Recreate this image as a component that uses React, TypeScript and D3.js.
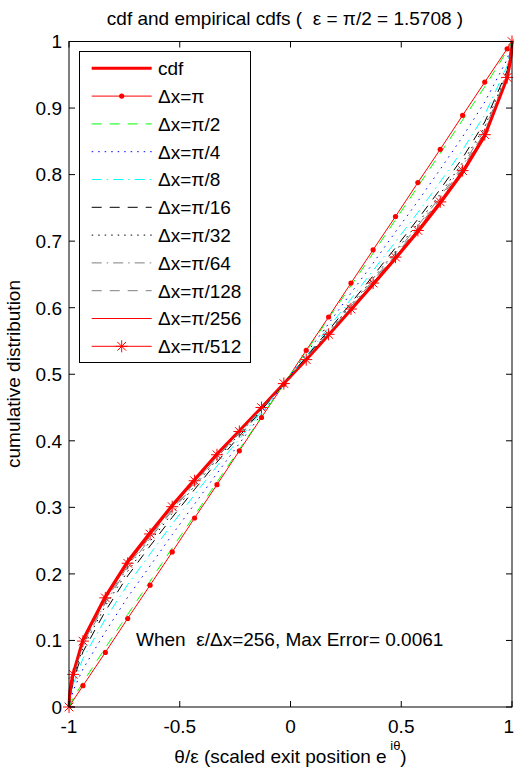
import React from "react";
import * as d3 from "d3";

// ---------- data ----------
const X_GRID = [-1, -0.981, -0.937, -0.836, -0.735, -0.634, -0.534, -0.433, -0.332, -0.231, -0.131, -0.03, 0.071, 0.172, 0.273, 0.373, 0.474, 0.575, 0.676, 0.777, 0.877, 0.978, 1];

const CDF_X = [-1, -0.997, -0.99, -0.981, -0.937, -0.836, -0.735, -0.634, -0.534, -0.433, -0.332, -0.231, -0.131, -0.03, 0.071, 0.172, 0.273, 0.373, 0.474, 0.575, 0.676, 0.777, 0.877, 0.978, 0.99, 0.997, 1];
const CDF_Y = [0, 0.021, 0.037, 0.0506, 0.101, 0.166, 0.219, 0.262, 0.303, 0.342, 0.38, 0.415, 0.45, 0.486, 0.522, 0.559, 0.597, 0.635, 0.674, 0.714, 0.757, 0.803, 0.858, 0.945, 0.966, 0.981, 1];

const DX_PI = [0, 0.01, 0.032, 0.082, 0.133, 0.183, 0.233, 0.284, 0.334, 0.385, 0.435, 0.485, 0.536, 0.586, 0.637, 0.687, 0.737, 0.788, 0.838, 0.889, 0.939, 0.989, 1];
const DX_PI2 = [0, 0.013, 0.037, 0.089, 0.139, 0.189, 0.239, 0.288, 0.338, 0.387, 0.436, 0.485, 0.534, 0.584, 0.633, 0.682, 0.732, 0.782, 0.832, 0.882, 0.932, 0.986, 1];
const DX_PI4 = [0, 0.025, 0.057, 0.113, 0.165, 0.212, 0.259, 0.305, 0.351, 0.396, 0.44, 0.485, 0.531, 0.576, 0.622, 0.667, 0.714, 0.76, 0.808, 0.857, 0.909, 0.973, 1];
const DX_PI8 = [0, 0.034, 0.073, 0.132, 0.184, 0.23, 0.275, 0.319, 0.362, 0.403, 0.444, 0.486, 0.527, 0.57, 0.613, 0.656, 0.699, 0.743, 0.789, 0.837, 0.89, 0.963, 1];
const DX_PI16 = [0, 0.04, 0.083, 0.144, 0.197, 0.242, 0.285, 0.327, 0.368, 0.407, 0.446, 0.486, 0.526, 0.566, 0.607, 0.648, 0.69, 0.733, 0.778, 0.825, 0.879, 0.956, 1];
const DX_PI32 = [0, 0.044, 0.089, 0.152, 0.204, 0.249, 0.291, 0.332, 0.372, 0.41, 0.447, 0.486, 0.524, 0.564, 0.604, 0.644, 0.685, 0.727, 0.771, 0.818, 0.872, 0.953, 1];
const DX_PI64 = [0, 0.046, 0.093, 0.156, 0.209, 0.253, 0.295, 0.335, 0.375, 0.411, 0.448, 0.486, 0.524, 0.562, 0.602, 0.641, 0.682, 0.723, 0.767, 0.813, 0.868, 0.95, 1];
const DX_PI128 = [0, 0.047, 0.095, 0.159, 0.212, 0.256, 0.297, 0.337, 0.376, 0.413, 0.449, 0.486, 0.523, 0.561, 0.6, 0.639, 0.679, 0.72, 0.764, 0.81, 0.864, 0.949, 1];
const DX_PI256 = [0, 0.049, 0.098, 0.162, 0.215, 0.258, 0.3, 0.339, 0.378, 0.414, 0.449, 0.486, 0.523, 0.56, 0.599, 0.638, 0.677, 0.718, 0.761, 0.807, 0.862, 0.947, 1];
const DX_PI512 = [0, 0.049, 0.099, 0.164, 0.216, 0.26, 0.301, 0.34, 0.379, 0.414, 0.45, 0.486, 0.522, 0.56, 0.598, 0.637, 0.676, 0.716, 0.759, 0.806, 0.86, 0.946, 1];

const LEGEND_LABELS = ["cdf", "Δx=π", "Δx=π/2", "Δx=π/4", "Δx=π/8", "Δx=π/16", "Δx=π/32", "Δx=π/64", "Δx=π/128", "Δx=π/256", "Δx=π/512"];
const X_TICKS = [-1, -0.5, 0, 0.5, 1];
const Y_TICKS = [0, 0.1, 0.2, 0.3, 0.4, 0.5, 0.6, 0.7, 0.8, 0.9, 1];

// ---------- styles ----------
type Style = { color: string; width: number; dash?: string; marker?: "dot" | "star" };
const STYLES: Style[] = [
  { color: "#ff0000", width: 3 },
  { color: "#ff0000", width: 1, marker: "dot" },
  { color: "#00ff00", width: 1, dash: "10,8" },
  { color: "#0000ff", width: 1, dash: "1.5,5" },
  { color: "#00ffff", width: 1, dash: "10,5,1.5,5" },
  { color: "#000000", width: 1, dash: "10,8" },
  { color: "#000000", width: 1, dash: "1.5,5" },
  { color: "#7f7f7f", width: 1, dash: "10,5,1.5,5" },
  { color: "#7f7f7f", width: 1, dash: "10,8" },
  { color: "#ff0000", width: 1 },
  { color: "#ff0000", width: 1, marker: "star" },
];

const FONT = "'Liberation Sans', Arial, Helvetica, sans-serif";
const FS = 19;

const W = 514, H = 770;
const PL = 69, PR = 512, PT = 41.5, PB = 707;

function starPath(s: number) {
  const k = s * 0.72;
  return `M${-s},0L${s},0M0,${-s}L0,${s}M${-k},${-k}L${k},${k}M${-k},${k}L${k},${-k}`;
}

export default function App() {
  const x = d3.scaleLinear().domain([-1, 1]).range([PL, PR]);
  const y = d3.scaleLinear().domain([0, 1]).range([PB, PT]);
  const line = d3.line<[number, number]>().x((d) => x(d[0])).y((d) => y(d[1]));

  const seriesY = [DX_PI, DX_PI2, DX_PI4, DX_PI8, DX_PI16, DX_PI32, DX_PI64, DX_PI128, DX_PI256, DX_PI512];
  const series: [number, number][][] = [
    CDF_X.map((v, i) => [v, CDF_Y[i]] as [number, number]),
    ...seriesY.map((arr) => X_GRID.map((v, i) => [v, arr[i]] as [number, number])),
  ];

  const tickLen = 6;
  const legX = 79.5, legY = 51.5, legW = 171, legH = 311;
  const rowY0 = 68.3, rowDY = 27.8;
  const pre = { whiteSpace: "pre" as const };

  return (
    <svg width={W} height={H} style={{ position: "absolute", left: 0, top: 0, background: "#fff" }} fontFamily={FONT}>
      <rect x={0} y={0} width={W} height={H} fill="#fff" />
      {/* title */}
      <text x={285} y={25} textAnchor="middle" fontSize={FS} style={pre}>
        {"cdf and empirical cdfs (  ε = π/2 = 1.5708 )"}
      </text>

      {/* data */}
      <g>
        {series.map((pts, si) => {
          const st = STYLES[si];
          return (
            <path key={si} d={line(pts) || ""} fill="none" stroke={st.color} strokeWidth={st.width}
              strokeDasharray={st.dash} strokeLinejoin="round" />
          );
        })}
        {series[1].slice(2, 22).map((p, i) => (
          <circle key={"d" + i} cx={x(p[0])} cy={y(p[1])} r={2.6} fill="#ff0000" />
        ))}
        {series[10].map((p, i) => (
          <path key={"s" + i} d={starPath(6)} transform={`translate(${x(p[0])},${y(p[1])})`} stroke="#ff0000" strokeWidth={1} fill="none" />
        ))}
      </g>

      {/* axes box */}
      <rect x={PL} y={PT} width={PR - PL} height={PB - PT} fill="none" stroke="#000" strokeWidth={1} />
      {X_TICKS.map((t) => (
        <g key={"xt" + t}>
          <line x1={x(t)} x2={x(t)} y1={PB} y2={PB - tickLen} stroke="#000" />
          <line x1={x(t)} x2={x(t)} y1={PT} y2={PT + tickLen} stroke="#000" />
          <text x={t === 1 ? W : x(t)} y={733} textAnchor={t === 1 ? "end" : "middle"} fontSize={FS}>{t}</text>
        </g>
      ))}
      {Y_TICKS.map((t) => (
        <g key={"yt" + t}>
          <line x1={PL} x2={PL + tickLen} y1={y(t)} y2={y(t)} stroke="#000" />
          <line x1={PR} x2={PR - tickLen} y1={y(t)} y2={y(t)} stroke="#000" />
          <text x={62} y={y(t)} dy="0.36em" textAnchor="end" fontSize={FS}>{t}</text>
        </g>
      ))}

      {/* axis labels */}
      <text transform={`translate(20,374) rotate(-90)`} textAnchor="middle" fontSize={FS}>cumulative distribution</text>
      <text x={290.5} y={763} textAnchor="middle" fontSize={FS} style={pre}>
        {"θ/ε (scaled exit position e"}
        <tspan fontSize={13} dy={-13}>{" iθ"}</tspan>
        <tspan dy={13}>)</tspan>
      </text>

      {/* annotation */}
      <text x={136} y={646} fontSize={FS} style={pre}>{"When  ε/Δx=256, Max Error= 0.0061"}</text>

      {/* legend */}
      <rect x={legX} y={legY} width={legW} height={legH} fill="#fff" stroke="#000" strokeWidth={1} />
      {LEGEND_LABELS.map((lab, i) => {
        const st = STYLES[i];
        const ry = rowY0 + rowDY * i;
        return (
          <g key={"lg" + i}>
            <line x1={91.7} x2={151.7} y1={ry} y2={ry} stroke={st.color} strokeWidth={st.width} strokeDasharray={st.dash} />
            {st.marker === "dot" && <circle cx={121.7} cy={ry} r={2.6} fill="#ff0000" />}
            {st.marker === "star" && <path d={starPath(6)} transform={`translate(121.7,${ry})`} stroke="#ff0000" fill="none" />}
            <text x={158} y={ry} dy="0.36em" fontSize={FS}>{lab}</text>
          </g>
        );
      })}
    </svg>
  );
}
